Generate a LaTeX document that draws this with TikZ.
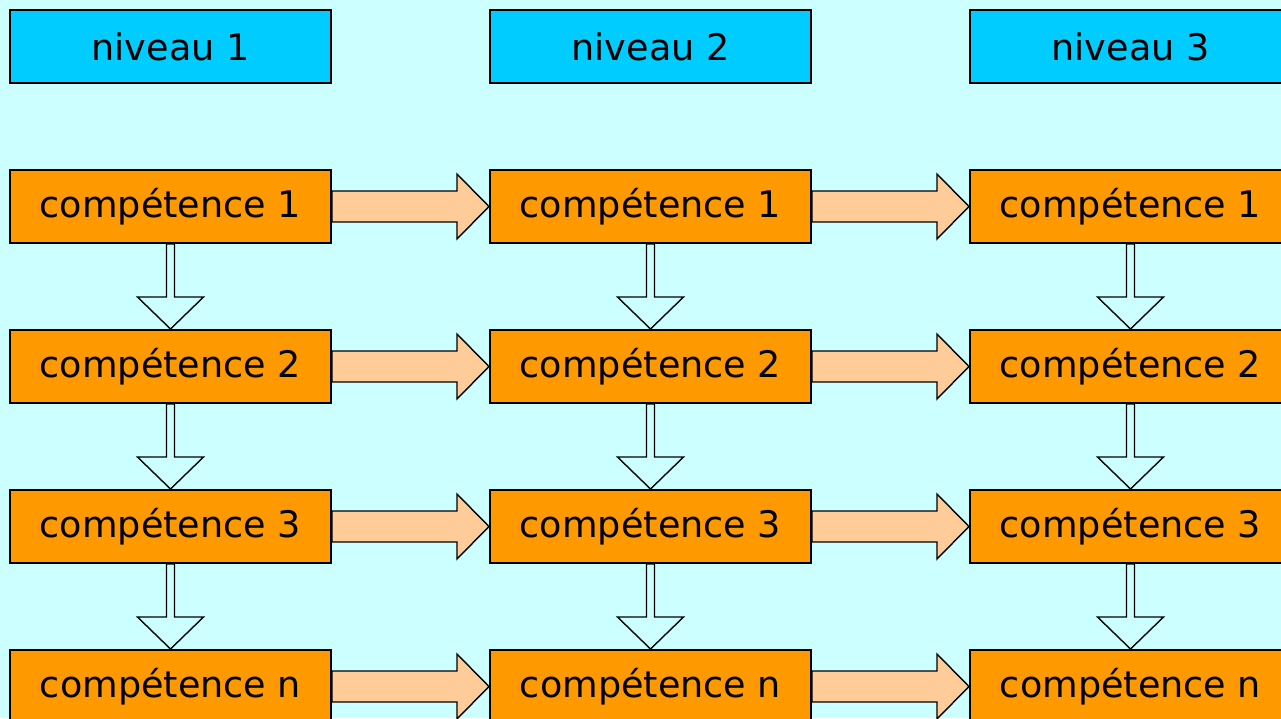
\documentclass[tikz,border=0pt]{standalone}
\usepackage{fontspec}
\setmainfont{DejaVu Sans}
\usetikzlibrary{calc}

\definecolor{fond}{HTML}{CCFFFF}
\definecolor{bleuniveau}{HTML}{00CCFF}
\definecolor{orangecomp}{HTML}{FF9900}
\definecolor{peche}{HTML}{FFCC99}

\begin{document}
\begin{tikzpicture}[x=0.025cm,y=-0.025cm,
    niveau/.style={draw,line width=1.4pt,fill=bleuniveau,minimum width=8.025cm,minimum height=1.825cm,inner sep=0pt,font=\textfontsize},
    competence/.style={niveau,fill=orangecomp},
    flechehoriz/.style={draw,line width=1pt,fill=peche},
    flechevert/.style={draw,line width=1pt,fill=fond}]
    \pgfmathsetmacro{\colsep}{480}
    \pgfmathsetmacro{\rowsep}{160}
    \pgfmathsetmacro{\hshaft}{15.5}
    \pgfmathsetmacro{\hhead}{32.5}
    \pgfmathsetmacro{\vshaft}{4}
    \pgfmathsetmacro{\vhead}{33}
    \pgfmathsetmacro{\headlen}{32}
    \providecommand{\textfontsize}{\fontsize{26pt}{30pt}\selectfont}
    \useasboundingbox (0,0) rectangle (1281,718);
    \fill[fond] (0,0) rectangle (1281,718);
    \clip (0,0) rectangle (1281,718);
    % en-tetes
    \foreach \c in {1,2,3}
        \node[niveau] (niv\c) at ({170.5+(\c-1)*\colsep},46.5) {niveau \c};
    % boites
    \foreach \c in {1,2,3}
        \foreach \r/\lab in {1/1,2/2,3/3,4/n}
            \node[competence] (c\c-\r) at ({170.5+(\c-1)*\colsep},{206.5+(\r-1)*\rowsep}) {compétence \lab};
    % fleches horizontales
    \foreach \c in {1,2}
        \foreach \r in {1,2,3,4} {
            \pgfmathtruncatemacro{\nxt}{\c+1}
            \draw[flechehoriz] ($(c\c-\r.east)+(0,-\hshaft)$) -- ($(c\nxt-\r.west)+(-\headlen,-\hshaft)$)
                -- ($(c\nxt-\r.west)+(-\headlen,-\hhead)$) -- (c\nxt-\r.west)
                -- ($(c\nxt-\r.west)+(-\headlen,\hhead)$) -- ($(c\nxt-\r.west)+(-\headlen,\hshaft)$)
                -- ($(c\c-\r.east)+(0,\hshaft)$) -- cycle;
        }
    % fleches verticales
    \foreach \c in {1,2,3}
        \foreach \r in {1,2,3} {
            \pgfmathtruncatemacro{\dessous}{\r+1}
            \draw[flechevert] ($(c\c-\r.south)+(-\vshaft,0)$) -- ($(c\c-\dessous.north)+(-\vshaft,-\headlen)$)
                -- ($(c\c-\dessous.north)+(-\vhead,-\headlen)$) -- (c\c-\dessous.north)
                -- ($(c\c-\dessous.north)+(\vhead,-\headlen)$) -- ($(c\c-\dessous.north)+(\vshaft,-\headlen)$)
                -- ($(c\c-\r.south)+(\vshaft,0)$) -- cycle;
        }
\end{tikzpicture}
\end{document}
